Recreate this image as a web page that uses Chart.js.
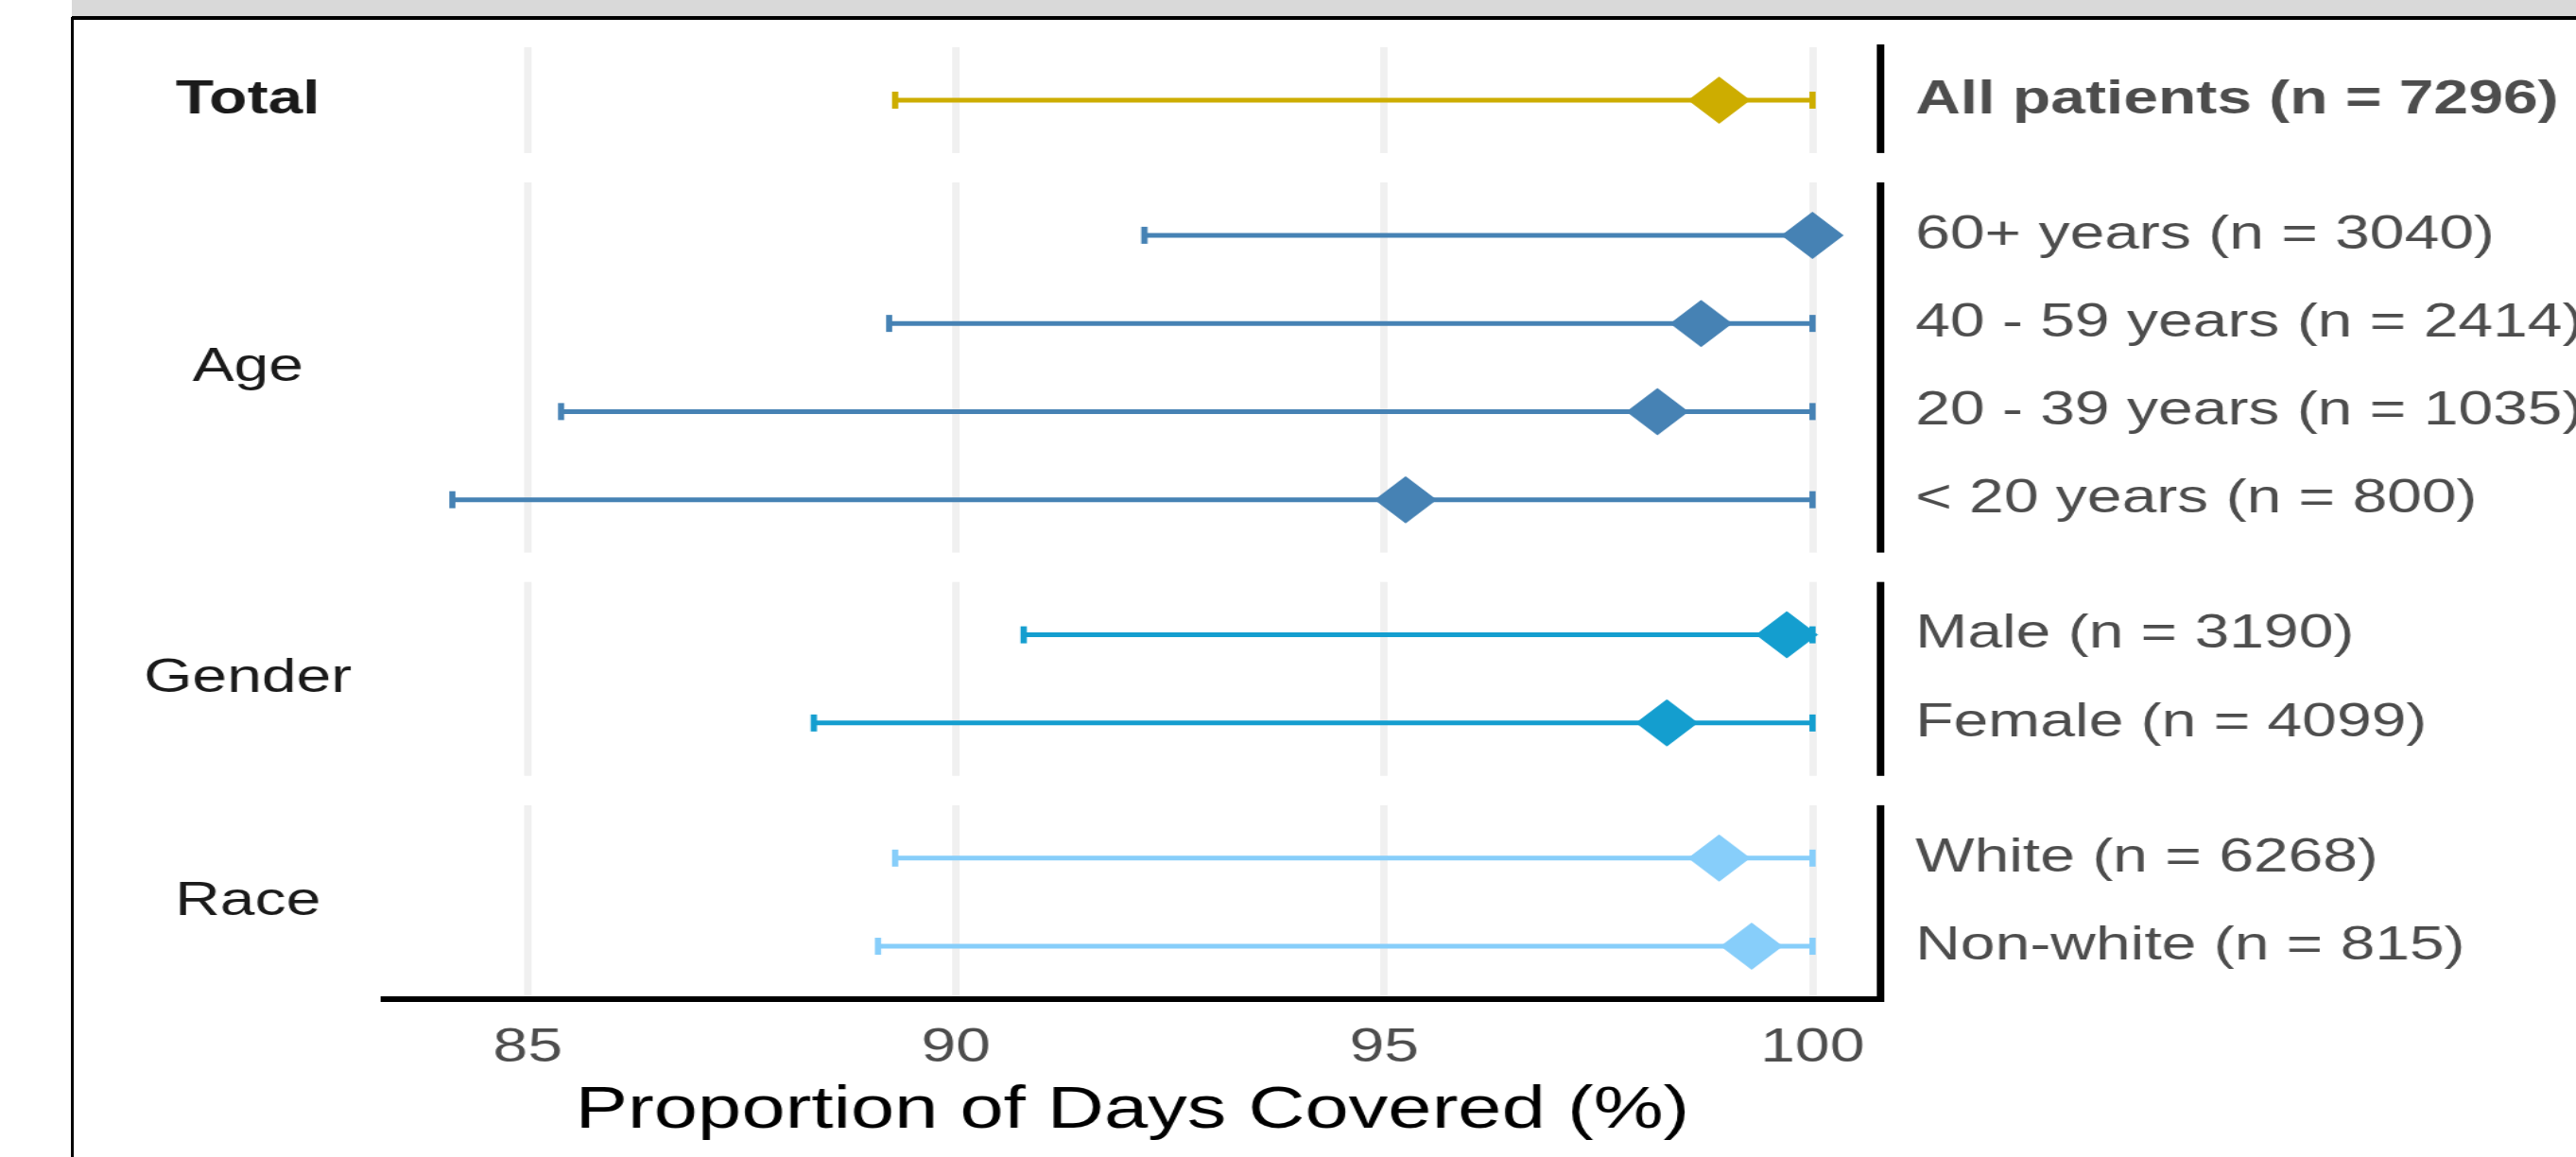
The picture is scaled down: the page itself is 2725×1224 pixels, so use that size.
<!DOCTYPE html>
<html>
<head>
<meta charset="utf-8">
<script src="https://cdn.jsdelivr.net/npm/chart.js@4.4.1/dist/chart.umd.min.js"></script>
<style>
  html, body { margin: 0; padding: 0; background: #fff; overflow: hidden; }
  #page { position: relative; width: 2725px; height: 1224px; }
  #titlebar { position: absolute; left: 76px; top: 0; right: 0; height: 17px; background: #d9d9d9; border-bottom: 4px solid #000; }
  #frame { position: absolute; left: 75px; top: 18px; width: 3px; bottom: 0; background: #000; }
  /* the reference is a horizontally stretched export, so the chart is drawn narrow and stretched */
  #wrap { position: absolute; left: 0; top: 0; width: 2065px; height: 1224px; transform: scaleX(1.32); transform-origin: 0 0; }
</style>
</head>
<body>
<div id="page">
  <div id="titlebar"></div>
  <div id="frame"></div>
  <div id="wrap"><canvas id="forest" width="2065" height="1224"></canvas></div>
</div>
<script>
const groups = ['Total', 'Age', 'Gender', 'Race'];
const rowLabels = [
    'All patients (n = 7296)',
    '60+ years (n = 3040)',
    '40 - 59 years (n = 2414)',
    '20 - 39 years (n = 1035)',
    '< 20 years (n = 800)',
    'Male (n = 3190)',
    'Female (n = 4099)',
    'White (n = 6268)',
    'Non-white (n = 815)'
];
const rowGroups = ['Total', 'Age', 'Age', 'Age', 'Age', 'Gender', 'Gender', 'Race', 'Race'];
const pdcEstimate = [98.91, 100.0, 98.70, 98.19, 95.25, 99.70, 98.30, 98.91, 99.29];
const ciLower = [89.29, 92.20, 89.22, 85.39, 84.12, 90.79, 88.34, 89.29, 89.09];
const ciUpper = [100, 100, 100, 100, 100, 100, 100, 100, 100];
const xTicks = [85, 90, 95, 100];
const xTitle = 'Proportion of Days Covered (%)';

const groupColors = { Total: '#CDAD00', Age: '#4682B4', Gender: '#149ECF', Race: '#87CEFA' };
const FONT = "'Liberation Sans', Arial, Helvetica, sans-serif";

// facet-like layout: each group gets its own band, rows one unit apart
const PANEL_GAP = 0.333;
const rowPos = [];
const panels = [];
let cursor = 0;
for (const g of groups) {
    const start = cursor;
    let k = 0;
    rowGroups.forEach((r, i) => {
        if (r === g) rowPos[i] = start + 0.6 + k++;
    });
    const end = start + k + 0.2;
    panels.push({ group: g, start, end, mid: (start + end) / 2 });
    cursor = end + PANEL_GAP;
}
const yMax = cursor - PANEL_GAP;

// ggplot-style 5% expansion of the x range
const xLo = Math.min(...ciLower);
const xHi = Math.max(...ciUpper);
const xMin = xLo - 0.05 * (xHi - xLo);
const xMax = xHi + 0.05 * (xHi - xLo);

const rowColors = rowGroups.map(g => groupColors[g]);

const errorBarSets = rowLabels.map((label, i) => ({
    type: 'line',
    label,
    yAxisID: 'yR',
    order: 1,
    data: [{ x: ciLower[i], y: rowPos[i] }, { x: ciUpper[i], y: rowPos[i] }],
    borderColor: rowColors[i],
    backgroundColor: rowColors[i],
    borderWidth: 5,
    fill: false,
    tension: 0,
    pointStyle: 'line',
    pointRotation: 90,
    pointRadius: 9,
    pointHoverRadius: 9,
    pointBorderWidth: 5,
    pointBorderColor: rowColors[i]
}));

const estimateSet = {
    type: 'scatter',
    label: 'PDC',
    yAxisID: 'yR',
    order: 0,
    data: rowLabels.map((_, i) => ({ x: pdcEstimate[i], y: rowPos[i] })),
    pointStyle: 'rectRot',
    pointRadius: 25,
    pointHoverRadius: 25,
    backgroundColor: rowColors,
    borderColor: rowColors,
    borderWidth: 0
};

// white out the space between the group bands (breaks gridlines and right border)
const panelGaps = {
    id: 'panelGaps',
    beforeDatasetsDraw(chart) {
        const { ctx, chartArea } = chart;
        const y = chart.scales.yR;
        ctx.save();
        ctx.fillStyle = '#fff';
        for (let i = 0; i < panels.length - 1; i++) {
            const top = y.getPixelForValue(panels[i].end);
            const bottom = y.getPixelForValue(panels[i + 1].start);
            ctx.fillRect(chartArea.left - 5, top, chartArea.right - chartArea.left + 14, bottom - top);
        }
        ctx.restore();
    }
};

const fitY = width => s => {
    s.width = width;
    s.paddingTop = 0;
    s.paddingBottom = 0;
};

new Chart(document.getElementById('forest'), {
    type: 'scatter',
    data: { datasets: [estimateSet, ...errorBarSets] },
    options: {
        responsive: false,
        animation: false,
        devicePixelRatio: 1,
        layout: { padding: { top: 50, right: 0, bottom: 0, left: 0 } },
        plugins: {
            legend: { display: false },
            tooltip: { enabled: false }
        },
        scales: {
            x: {
                type: 'linear',
                min: xMin,
                max: xMax,
                afterBuildTicks: s => { s.ticks = xTicks.map(v => ({ value: v })); },
                grid: { color: '#F0F0F0', lineWidth: 6, drawTicks: false },
                border: { display: true, color: '#000', width: 6 },
                ticks: {
                    color: '#4D4D4D',
                    font: { family: FONT, size: 50 },
                    padding: 22,
                    maxRotation: 0,
                    autoSkip: false
                },
                title: {
                    display: true,
                    text: xTitle,
                    color: '#000',
                    font: { family: FONT, size: 63 },
                    padding: { top: 0, bottom: 11 }
                },
                afterFit: s => {
                    s.height = 167;
                    s.paddingLeft = 0;
                    s.paddingRight = 0;
                }
            },
            yR: {
                type: 'linear',
                position: 'right',
                reverse: true,
                bounds: 'data',
                min: 0,
                max: yMax,
                afterBuildTicks: s => { s.ticks = rowPos.map(v => ({ value: v })); },
                grid: { display: false, drawTicks: false },
                border: { display: true, color: '#000', width: 6 },
                ticks: {
                    autoSkip: false,
                    padding: 28,
                    color: '#4D4D4D',
                    font: c => ({ family: FONT, size: 50, weight: c.index === 0 ? 'bold' : 'normal' }),
                    callback: (v, i) => rowLabels[i]
                },
                afterFit: fitY(558)
            },
            yL: {
                type: 'linear',
                position: 'left',
                reverse: true,
                bounds: 'data',
                min: 0,
                max: yMax,
                afterBuildTicks: s => { s.ticks = panels.map(p => ({ value: p.mid })); },
                grid: { display: false, drawTicks: false },
                border: { display: false },
                ticks: {
                    autoSkip: false,
                    padding: 26,
                    crossAlign: 'center',
                    color: '#1A1A1A',
                    font: c => ({ family: FONT, size: 50, weight: c.index === 0 ? 'bold' : 'normal' }),
                    callback: (v, i) => panels[i].group
                },
                afterFit: fitY(308)
            }
        }
    },
    plugins: [panelGaps]
});
</script>
</body>
</html>
